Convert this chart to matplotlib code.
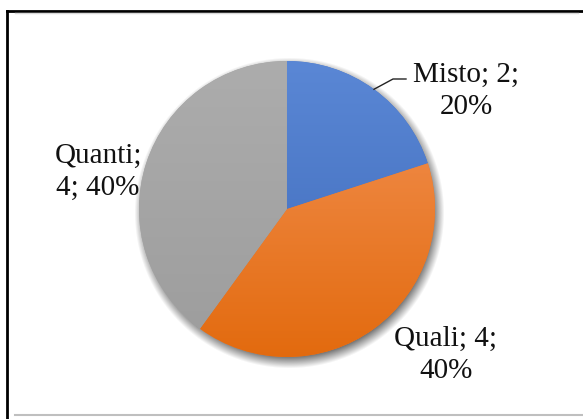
import numpy as np
import matplotlib
matplotlib.use("Agg")
import matplotlib.pyplot as plt
from matplotlib.colors import LinearSegmentedColormap

categories = ["Misto", "Quali", "Quanti"]
counts = [2, 4, 4]
percent_labels = ["20%", "40%", "40%"]

W, H = 583, 419
fig = plt.figure(figsize=(W / 100, H / 100), dpi=100)
ax = fig.add_axes([0, 0, 1, 1])

cx, cy, r = 287, 210, 148

# soft shadow under the pie
yy, xx = np.mgrid[0:H, 0:W]
d = np.hypot(xx - (cx + 2), yy - (cy - 5))
alpha = np.clip((r + 7 - d) / 12, 0, 1) * 0.55
shadow = np.zeros((H, W, 4))
shadow[..., 3] = alpha
ax.imshow(shadow, extent=(0, W, 0, H), origin="lower", zorder=1)

wedges, _ = ax.pie(counts, startangle=90, counterclock=False,
                   center=(cx, cy), radius=r, explode=[0, 0, 0.03],
                   colors=["#4a78c8", "#ec7c30", "#a5a5a5"],
                   wedgeprops=dict(linewidth=0), frame=True)

# vertical gradients, lighter on top
grads = [("#5b88d6", "#3d69b8"), ("#f4955a", "#e2690c"), ("#adadad", "#9c9c9c")]
for w, (top, bot) in zip(wedges, grads):
    w.set_zorder(2)
    cmap = LinearSegmentedColormap.from_list("g", [bot, top])
    grad = np.linspace(0, 1, 256).reshape(-1, 1)
    im = ax.imshow(grad, cmap=cmap, aspect="auto", origin="lower",
                   extent=(cx - r - 10, cx + r + 10, cy - r - 10, cy + r + 10),
                   zorder=3)
    im.set_clip_path(w)
ax.set_xlim(0, W)
ax.set_ylim(0, H)
ax.set_aspect("equal")
ax.axis("off")

# labels
font = dict(family=["Liberation Serif", "DejaVu Serif"], fontsize=21,
            color="#111111", ha="center", va="center", linespacing=1.3)
label_pos = [(466, 91), (446, 355), (98, 172)]
label_text = [
    f"{categories[0]}; {counts[0]};\n{percent_labels[0]}",
    f"{categories[1]}; {counts[1]};\n{percent_labels[1]}",
    f"{categories[2]};\n{counts[2]}; {percent_labels[2]}",
]
for (x, y), t in zip(label_pos, label_text):
    ax.text(x, H - y, t, zorder=5, **font)

# leader line for the small slice
w = wedges[0]
ang = np.deg2rad((w.theta1 + w.theta2) / 2)
x0, y0 = cx + r * np.cos(ang), cy + r * np.sin(ang)
ax.plot([x0, 393, 406], [y0, H - 79, H - 79], color="#222222", lw=1, zorder=5)

# chart frame
fig.add_artist(plt.Line2D([7 / W, 7 / W], [0, 1 - 11 / H], color="black",
                          lw=2, transform=fig.transFigure))
fig.add_artist(plt.Line2D([7 / W, 1], [1 - 11 / H, 1 - 11 / H], color="black",
                          lw=2, transform=fig.transFigure))
fig.add_artist(plt.Line2D([15 / W, 578 / W], [1 - 13 / H, 1 - 13 / H],
                          color="#d9d9d9", lw=1, transform=fig.transFigure))
fig.add_artist(plt.Line2D([15 / W, 1], [1 - 415 / H, 1 - 415 / H],
                          color="#bfbfbf", lw=1.5, transform=fig.transFigure))

fig.savefig("out.png", dpi=100)
